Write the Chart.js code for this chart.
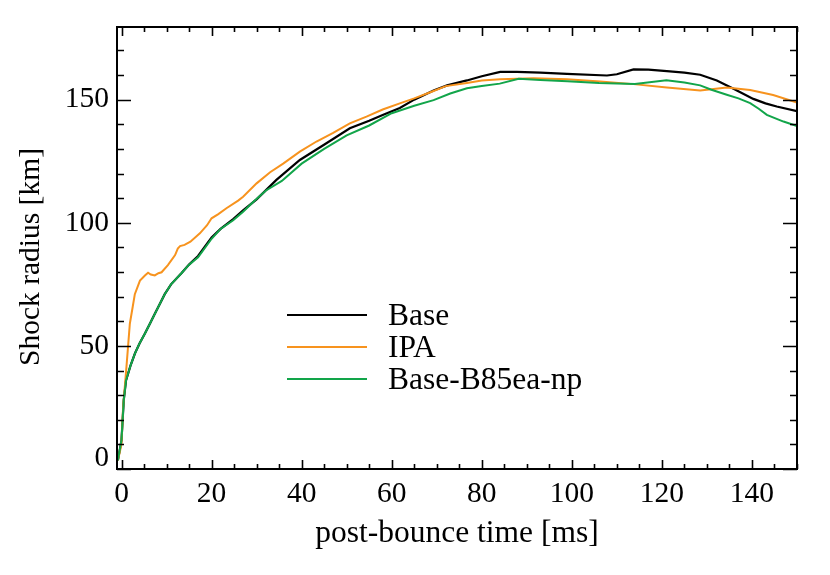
<!DOCTYPE html>
<html>
<head>
<meta charset="utf-8">
<script src="https://cdn.jsdelivr.net/npm/chart.js@4/dist/chart.umd.min.js"></script>
<style>
  html, body { margin: 0; padding: 0; background: #fff; }
  #wrap { width: 830px; height: 575px; }
</style>
</head>
<body>
<div id="wrap"><canvas id="c" width="830" height="575"></canvas></div>
<script>
// ---- data ----
const baseTime = [-0.8, 0, 0.5, 1, 2, 3, 4, 5.2, 6.3, 7.4, 8.5, 9.6, 11, 13.3, 15, 17, 20, 22, 24.8, 27, 30,
  34.4, 39.6, 45.5, 50.7, 55, 58, 61.8, 65, 69.3, 72.3, 76.7, 80, 84.1, 87.8, 93, 98.9, 107.8, 110,
  113.7, 117, 121.1, 125, 128.5, 132.2, 135.9, 140.3, 143, 145.5, 150];
const baseRadius = [3.5, 11.7, 28, 36, 42, 47, 51, 55, 59, 63, 67, 71, 75, 79.5, 83, 86.5, 94, 97.5, 101.5, 105, 109.5,
  117.4, 125.5, 132.3, 138.4, 141.4, 143.8, 146.6, 150, 153.7, 155.8, 157.8, 159.5, 161.3, 161.3, 161, 160.5, 159.8, 160.3,
  162.3, 162.2, 161.6, 161, 160.1, 157.8, 154.4, 150.3, 148.5, 147.2, 145.3];

const ipaTime = [-0.8, 0, 0.35, 1.1, 1.85, 2.5, 2.96, 4.1, 5.2, 5.9, 6.5, 7.4, 8.2, 8.9, 10.3, 11.9, 12.5, 13, 14,
  15.3, 17.4, 19, 20, 21.5, 23.3, 25.9, 27, 30, 33, 35.9, 39.6, 43.3, 47, 50.7, 54.4, 58, 61.8, 65,
  69.3, 72, 76.7, 80, 84.1, 91.5, 98.9, 106.3, 113.7, 121.1, 128.5, 131, 134.4, 139.6, 144.7, 150];
const ipaRadius = [3.5, 10, 25, 41.5, 59, 66, 71, 76.5, 78.6, 79.7, 79, 78.6, 79.5, 79.9, 82.8, 86.9, 89.5, 90.5, 91,
  92.3, 95.7, 99, 101.8, 103.5, 105.9, 109, 110.6, 116, 120.5, 124, 128.9, 133, 136.5, 140.4, 143.1, 146, 148.5, 150.5,
  153.5, 155.5, 156.8, 157.8, 158.3, 158.7, 158.3, 157.4, 156.3, 154.9, 153.7, 154.2, 154.9, 153.9, 151.9, 148.8];

const b85Time = [-0.8, 0, 0.5, 1, 2, 3, 4, 5.2, 6.3, 7.4, 8.5, 9.6, 11, 13.3, 15, 17, 20, 22, 24.8, 27, 29.3,
  32, 35.6, 40, 45, 50, 55, 60, 65, 69.3, 73, 76.7, 80, 84, 88.2, 93, 99, 106, 114, 121, 125, 128.5,
  131, 134.4, 137, 139.6, 141.5, 143.3, 147, 150];
const b85Radius = [3.5, 11.7, 28, 36, 42, 47, 51, 55, 59, 63, 67, 71, 75, 79.5, 83, 86, 93.5, 97.5, 101, 104.5, 108.5,
  113, 117, 124, 130, 135.5, 139.5, 144.5, 147.5, 149.8, 152.5, 154.6, 155.5, 156.5, 158.5, 158, 157.5, 156.8, 156.4, 157.9, 157, 155.8,
  154, 152, 150.5, 148.6, 146.3, 143.8, 141.1, 139.3];

const seriesNames = ['Base', 'IPA', 'Base-B85ea-np'];
const seriesColors = ['#000000', '#F7931E', '#12A54A'];

const xTicks = [0, 20, 40, 60, 80, 100, 120, 140];
const yTicks = [0, 50, 100, 150];

const FONT = "'Liberation Serif', 'Times New Roman', serif";

function pts(t, r) { return t.map((v, i) => ({ x: v, y: r[i] })); }

// box with inward ticks on all four sides (IDL look)
const frameTicks = {
  id: 'frameTicks',
  afterDraw(chart) {
    const { ctx, chartArea: a, scales: { x, y } } = chart;
    ctx.save();
    ctx.strokeStyle = '#000';
    ctx.lineWidth = 2;
    ctx.strokeRect(a.left, a.top, a.right - a.left, a.bottom - a.top);
    ctx.lineWidth = 1.6;
    ctx.beginPath();
    for (let v = 0; v <= 150; v += 5) {
      const px = Math.round(x.getPixelForValue(v)) + 0.5;
      const len = v % 20 === 0 ? 9 : 5;
      ctx.moveTo(px, a.bottom); ctx.lineTo(px, a.bottom - len);
      ctx.moveTo(px, a.top); ctx.lineTo(px, a.top + len);
    }
    for (let v = 0; v <= 170; v += 10) {
      const py = Math.round(y.getPixelForValue(v)) + 0.5;
      const len = v % 50 === 0 ? 14 : 7;
      ctx.moveTo(a.left, py); ctx.lineTo(a.left + len, py);
      ctx.moveTo(a.right, py); ctx.lineTo(a.right - len, py);
    }
    ctx.stroke();
    ctx.fillStyle = '#000';
    // the "0" on the y axis sits a little above its tick
    ctx.font = '29px ' + FONT;
    ctx.textAlign = 'right';
    ctx.textBaseline = 'middle';
    ctx.fillText('0', a.left - 8, y.getPixelForValue(0) - 11);
    // y axis title, a bit below the axis centre like the original
    ctx.save();
    ctx.translate(31, (a.top + a.bottom) / 2 + 9);
    ctx.rotate(-Math.PI / 2);
    ctx.textAlign = 'center';
    ctx.font = '29.5px ' + FONT;
    ctx.fillText('Shock radius [km]', 0, 0);
    ctx.restore();
    ctx.restore();
  }
};

const legendInPlot = {
  id: 'legendInPlot',
  afterDraw(chart) {
    const { ctx, chartArea: a } = chart;
    const x0 = a.left + 170, len = 80, row0 = a.top + 288, gap = 32;
    ctx.save();
    ctx.font = '31.5px ' + FONT;
    ctx.textAlign = 'left';
    ctx.textBaseline = 'alphabetic';
    chart.data.datasets.forEach((ds, i) => {
      const yy = row0 + i * gap;
      ctx.strokeStyle = ds.borderColor;
      ctx.lineWidth = 2;
      ctx.beginPath();
      ctx.moveTo(x0, yy); ctx.lineTo(x0 + len, yy);
      ctx.stroke();
      ctx.fillStyle = '#000';
      ctx.fillText(ds.label, x0 + len + 21, yy + 10);
    });
    ctx.restore();
  }
};

new Chart(document.getElementById('c'), {
  type: 'line',
  data: {
    datasets: [
      { label: seriesNames[0], data: pts(baseTime, baseRadius), borderColor: seriesColors[0], borderWidth: 2.2, order: 2 },
      { label: seriesNames[1], data: pts(ipaTime, ipaRadius), borderColor: seriesColors[1], borderWidth: 2, order: 1 },
      { label: seriesNames[2], data: pts(b85Time, b85Radius), borderColor: seriesColors[2], borderWidth: 2, order: 0 }
    ]
  },
  options: {
    responsive: false,
    animation: false,
    devicePixelRatio: 1,
    layout: { padding: { left: 0, top: 27, right: 33, bottom: 0 } },
    elements: { point: { radius: 0 }, line: { tension: 0, fill: false } },
    plugins: { legend: { display: false }, tooltip: { enabled: false } },
    scales: {
      x: {
        type: 'linear', min: -1, max: 150,
        afterBuildTicks: s => { s.ticks = xTicks.map(v => ({ value: v })); },
        afterFit: s => { s.height = 106; },
        grid: { display: false, drawTicks: false },
        border: { display: false },
        ticks: { color: '#000', font: { family: FONT, size: 29.5 }, padding: 8, maxRotation: 0 },
        title: { display: true, text: 'post-bounce time [ms]', color: '#000',
          font: { family: FONT, size: 31.5, lineHeight: 1.2 }, padding: { top: 0, bottom: 22 } }
      },
      y: {
        type: 'linear', min: 0, max: 179.5,
        afterBuildTicks: s => { s.ticks = yTicks.map(v => ({ value: v })); },
        afterFit: s => { s.width = 117; },
        grid: { display: false, drawTicks: false },
        border: { display: false },
        ticks: { color: '#000', font: { family: FONT, size: 29.5 }, padding: 8,
          callback: v => (v === 0 ? '' : String(v)) },
        title: { display: false }
      }
    }
  },
  plugins: [frameTicks, legendInPlot]
});
</script>
</body>
</html>
